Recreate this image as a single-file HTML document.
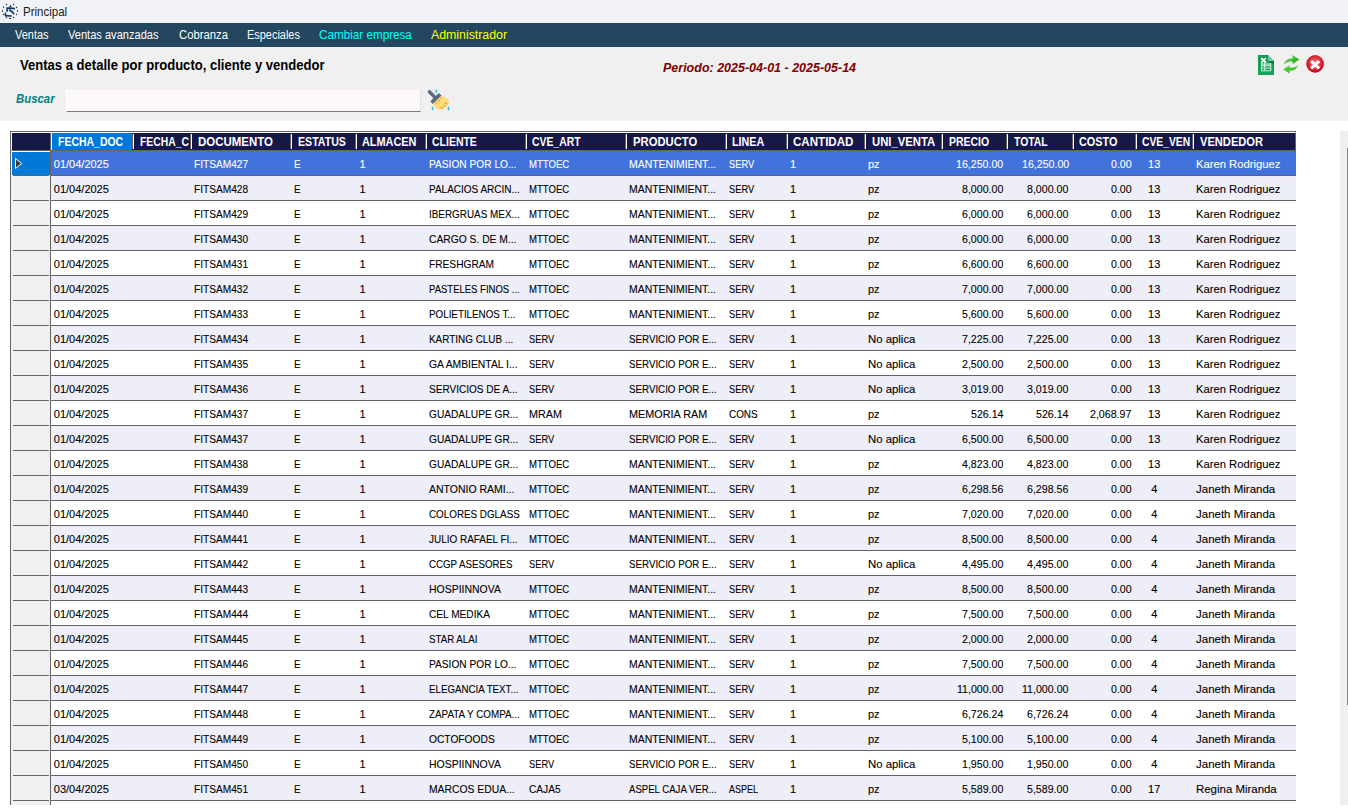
<!DOCTYPE html><html><head><meta charset="utf-8"><title>Principal</title><style>
*{margin:0;padding:0;box-sizing:border-box}
html,body{width:1348px;height:810px;overflow:hidden;background:#fff}
body{position:relative;font-family:"Liberation Sans",sans-serif;color:#000}
.tx{position:absolute;white-space:nowrap;transform-origin:0 0}
#title{position:absolute;left:0;top:0;width:1348px;height:23px;background:#f1f2f6}
#appico{position:absolute;left:0;top:1px}
#menu{position:absolute;left:0;top:23px;width:1348px;height:24px;background:#22475e}
#panel{position:absolute;left:0;top:47px;width:1348px;height:74px;background:#f0f0f0}
#inp{position:absolute;left:66px;top:90px;width:355px;height:22px;background:#fcf9f8;border-left:1px solid #fff;border-top:1px solid #fdfdfd;border-bottom:1px solid #7a7a7a;border-right:1px solid #e3e3e3}
#broom{position:absolute;left:424px;top:86px}
#xls{position:absolute;left:1258px;top:55px}
#refr{position:absolute;left:1280px;top:52px}
#clos{position:absolute;left:1305px;top:54px}
#tbl{position:absolute;left:10px;top:131px;width:1286px;height:674px;overflow:hidden;background:#fff}
#ti{position:absolute;left:-10px;top:-131px;width:1348px;height:810px}
#ti i,#ti div,#ti svg{position:absolute;display:block}
.bl{left:10px;top:131px;width:1px;height:680px;background:#646464}
.bt{left:10px;top:131px;width:1286px;height:1px;background:#646464}
.hdr{left:11px;top:132px;width:1285px;height:19px;background:#161946;border-left:1px solid #fff;border-top:1px solid #fff;border-right:1px solid #646464;border-bottom:1px solid #646464}
.hrh{left:50px;top:133px;width:2px;height:17px;border-left:1px solid #646464;background:#fff}
.hsel{left:52px;top:133px;width:80px;height:17px;background:#0078d7}
.sep{top:134px;width:2px;height:15px;background:#fff;border-left:1px solid #646464;margin-left:-1px}
.row{left:11px;width:1285px;height:25px;background:#fff}
.row.alt{background:#eeeef8}
.row .rl{left:40px;right:0;top:24px;height:1px;background:#646464}
.row .rh{left:0;top:0;width:39px;height:25px;background:#f0f0f0}
.row .rv{left:39px;top:0;width:1px;height:25px;background:#646464}
.row .rb{left:2px;top:24px;width:36px;height:1px;background:#646464}
.row.sel{background:#4272db}
.row.sel .rh{height:24px;background:#0078d7;border-left:1px solid #fff;border-top:1px solid #fff;box-shadow:0 1px 0 #f0f0f0}
#vsb{position:absolute;left:1340px;top:131px;width:8px;height:674px;background:#f0f0f0}
#vsb2{position:absolute;left:1347px;top:148px;width:1px;height:557px;background:#858585}
.dc{-webkit-text-stroke:0.1px currentColor}

</style></head><body>
<div id="title"></div>
<svg id="appico" width="22" height="22" viewBox="0 1 22 22"><g fill="#123b5c"><circle cx="6.5" cy="4.4" r="0.75"/><circle cx="13.5" cy="4.4" r="0.75"/><circle cx="3.5" cy="7.3" r="0.75"/><circle cx="16.5" cy="7.3" r="0.75"/><ellipse cx="2.5" cy="11" rx="0.6" ry="1"/><ellipse cx="17.5" cy="11" rx="0.6" ry="1"/><circle cx="3.5" cy="14.5" r="0.75"/><circle cx="16.5" cy="14.5" r="0.75"/><circle cx="6.5" cy="17.5" r="0.75"/><circle cx="13.5" cy="17.5" r="0.75"/><ellipse cx="10" cy="18.4" rx="1.1" ry="0.7"/>
<path d="M10.5 4.6 L8.8 7.6 L11.6 7.6 Z"/><path d="M14.8 13.6 L12.2 12 L13.2 15 Z"/></g>
<path d="M14.8 8.9 L13 8.4 L7.2 8.2 L7 11.8 M9.3 10 L13.5 12.8 M5.4 12.6 L5.5 15.6 L11.8 16" fill="none" stroke="#123b5c" stroke-width="1.7"/>
</svg>

<span class="tx" style="left:23.20px;top:6px;font-size:12px;line-height:12px;color:#1a1a1a;transform:scaleX(0.9587);">Principal</span>
<div id="menu"></div>
<span class="tx" style="left:15.40px;top:29px;font-size:12px;line-height:12px;color:#ffffff;transform:scaleX(0.9143);">Ventas</span>
<span class="tx" style="left:68.00px;top:29px;font-size:12px;line-height:12px;color:#ffffff;transform:scaleX(0.9233);">Ventas avanzadas</span>
<span class="tx" style="left:178.60px;top:29px;font-size:12px;line-height:12px;color:#ffffff;transform:scaleX(0.9400);">Cobranza</span>
<span class="tx" style="left:247.30px;top:29px;font-size:12px;line-height:12px;color:#ffffff;transform:scaleX(0.9121);">Especiales</span>
<span class="tx" style="left:319.00px;top:29px;font-size:12px;line-height:12px;color:#00ffff;transform:scaleX(0.9738);">Cambiar empresa</span>
<span class="tx" style="left:431.00px;top:29px;font-size:12px;line-height:12px;color:#ffff00;transform:scaleX(1.0270);">Administrador</span>
<div id="panel"></div>
<span class="tx" style="left:20.00px;top:58px;font-size:14px;line-height:14px;font-weight:bold;color:#000;transform:scaleX(0.9319);">Ventas a detalle por producto, cliente y vendedor</span>
<span class="tx" style="left:663.00px;top:62px;font-size:12px;line-height:12px;font-weight:bold;font-style:italic;color:#800000;transform:scaleX(1.0411);">Periodo: 2025-04-01 - 2025-05-14</span>
<span class="tx" style="left:15.50px;top:93px;font-size:12px;line-height:12px;font-weight:bold;font-style:italic;color:#008080;transform:scaleX(0.9479);">Buscar</span>
<div id="inp"></div>
<svg id="broom" width="30" height="28" viewBox="424 86 30 28">
<path d="M432.6 104.3 L441.6 95.2 L447.5 98.8 Q449.6 100.3 448.6 103.2 Q445 108.6 440.4 110 Q437 109.6 435 107.2 Z" fill="#ffdc7c"/>
<path d="M429.4 91.8 L435.2 97.6" stroke="#5b6a80" stroke-width="3.4" stroke-linecap="round"/>
<path d="M430.3 101.3 L438.9 93.0 L441.5 95.4 L432.7 104.1 Z" fill="#5b6a80"/>
<path d="M435.6 102.4 l1.3 0.8 M438 100 l1.6 1.2 M440 97.9 l1.2 0.8 M444.5 102.7 l3.2 1.2 M443.2 105 l2.6 1.6 M440.6 107 l2.4 1.6" stroke="#f0a030" stroke-width="1.1" stroke-linecap="round"/>
<path d="M436.3 88.9 L437.4 91.2 L436.3 93.5 L435.2 91.2 Z M432.6 106.2 L433.7 108.5 L432.6 110.8 L431.5 108.5 Z M448.5 106.2 L449.6 108.6 L448.5 111 L447.4 108.6 Z" fill="#3cb4e7"/>
</svg>
<svg id="xls" width="16" height="20" viewBox="1258 55 16 20">
<defs><linearGradient id="xg" x1="0" y1="0" x2="0" y2="1"><stop offset="0" stop-color="#119a50"/><stop offset="1" stop-color="#17a35d"/></linearGradient></defs>
<path d="M1258 55 H1268 L1274 61 V75 H1258 Z" fill="url(#xg)"/>
<path d="M1268 55 L1274 61 L1268 61 Z" fill="#74c89c"/>
<path d="M1268 61 L1274 61 L1274 64.5 Z" fill="#0b7a3c"/>
<path d="M1261.2 58.0 L1265.9 62.8" stroke="#fff" stroke-width="2"/><path d="M1265.9 58.0 L1261.2 62.8" stroke="#fff" stroke-width="1.5"/>
<rect x="1261" y="63.2" width="10" height="2.4" fill="#8fd6b2"/>
<path d="M1261.5 63.3 V70.8 H1270.8 V63.3 M1261.5 65.9 H1270.8 M1261.5 68.2 H1270.8 M1264.6 63.3 V70.8" fill="none" stroke="#e4f5ec" stroke-width="0.9"/>
</svg>
<svg id="refr" width="22" height="26" viewBox="1280 52 22 26">
<defs><linearGradient id="ag" x1="0" y1="0" x2="1" y2="1"><stop offset="0" stop-color="#7ee46a"/><stop offset="0.55" stop-color="#3cc22c"/><stop offset="1" stop-color="#0c960c"/></linearGradient></defs>
<path d="M1283.8 64.2 C1284.8 60.4 1288.4 58.5 1292.5 58.3 L1292.5 55.0 L1299.4 59.4 L1292.5 63.9 L1292.5 61.3 C1289 61.3 1286 62.4 1283.8 64.2 Z" fill="url(#ag)"/>
<path d="M1297.8 65.0 C1296.6 67.2 1293.6 67.8 1289.6 67.6 L1289.6 65.2 L1282.9 69.3 L1289.6 73.5 L1289.6 70.6 C1294 70.8 1297.3 68.6 1297.8 65.0 Z" fill="url(#ag)"/>
</svg>
<svg id="clos" width="20" height="20" viewBox="1305 54 20 20">
<defs><radialGradient id="rg" cx="0.5" cy="0.45" r="0.55"><stop offset="0" stop-color="#e9848c"/><stop offset="0.55" stop-color="#dc3c48"/><stop offset="0.85" stop-color="#d0101c"/><stop offset="1" stop-color="#b4000e"/></radialGradient></defs>
<circle cx="1315.1" cy="63.9" r="8.8" fill="url(#rg)"/>
<path d="M1311 61.2 L1319.2 68.4 M1319.2 61.2 L1311 68.4" stroke="#fff" stroke-width="3"/>
</svg>

<div id="tbl"><div id="ti">
<i class="bl"></i><i class="bt"></i>
<div class="hdr"></div><i class="hrh"></i><i class="hsel"></i>
<i class="sep" style="left:133px"></i>
<i class="sep" style="left:191px"></i>
<i class="sep" style="left:291px"></i>
<i class="sep" style="left:356px"></i>
<i class="sep" style="left:426px"></i>
<i class="sep" style="left:526px"></i>
<i class="sep" style="left:626px"></i>
<i class="sep" style="left:726px"></i>
<i class="sep" style="left:787px"></i>
<i class="sep" style="left:865px"></i>
<i class="sep" style="left:942px"></i>
<i class="sep" style="left:1007px"></i>
<i class="sep" style="left:1073px"></i>
<i class="sep" style="left:1136px"></i>
<i class="sep" style="left:1193px"></i>
<span class="tx" style="left:57.80px;top:136px;font-size:12px;line-height:12px;font-weight:bold;color:#fff;transform:scaleX(0.8724);">FECHA_DOC</span>
<span class="tx" style="left:140.00px;top:136px;font-size:12px;line-height:12px;font-weight:bold;color:#fff;transform:scaleX(0.8653);">FECHA_C</span>
<span class="tx" style="left:197.70px;top:136px;font-size:12px;line-height:12px;font-weight:bold;color:#fff;transform:scaleX(0.9541);">DOCUMENTO</span>
<span class="tx" style="left:297.60px;top:136px;font-size:12px;line-height:12px;font-weight:bold;color:#fff;transform:scaleX(0.8829);">ESTATUS</span>
<span class="tx" style="left:362.30px;top:136px;font-size:12px;line-height:12px;font-weight:bold;color:#fff;transform:scaleX(0.9083);">ALMACEN</span>
<span class="tx" style="left:432.00px;top:136px;font-size:12px;line-height:12px;font-weight:bold;color:#fff;transform:scaleX(0.8740);">CLIENTE</span>
<span class="tx" style="left:532.00px;top:136px;font-size:12px;line-height:12px;font-weight:bold;color:#fff;transform:scaleX(0.8661);">CVE_ART</span>
<span class="tx" style="left:632.50px;top:136px;font-size:12px;line-height:12px;font-weight:bold;color:#fff;transform:scaleX(0.9387);">PRODUCTO</span>
<span class="tx" style="left:732.40px;top:136px;font-size:12px;line-height:12px;font-weight:bold;color:#fff;transform:scaleX(0.8944);">LINEA</span>
<span class="tx" style="left:793.00px;top:136px;font-size:12px;line-height:12px;font-weight:bold;color:#fff;transform:scaleX(0.9645);">CANTIDAD</span>
<span class="tx" style="left:871.60px;top:136px;font-size:12px;line-height:12px;font-weight:bold;color:#fff;transform:scaleX(0.9415);">UNI_VENTA</span>
<span class="tx" style="left:948.70px;top:136px;font-size:12px;line-height:12px;font-weight:bold;color:#fff;transform:scaleX(0.8717);">PRECIO</span>
<span class="tx" style="left:1014.30px;top:136px;font-size:12px;line-height:12px;font-weight:bold;color:#fff;transform:scaleX(0.8669);">TOTAL</span>
<span class="tx" style="left:1079.00px;top:136px;font-size:12px;line-height:12px;font-weight:bold;color:#fff;transform:scaleX(0.9059);">COSTO</span>
<span class="tx" style="left:1142.00px;top:136px;font-size:12px;line-height:12px;font-weight:bold;color:#fff;transform:scaleX(0.8607);">CVE_VEN</span>
<span class="tx" style="left:1199.50px;top:136px;font-size:12px;line-height:12px;font-weight:bold;color:#fff;transform:scaleX(0.9265);">VENDEDOR</span>
<div class="row sel" style="top:151px"><i class="rh"></i><i class="rv"></i><i class="rb"></i><i class="rl"></i></div>
<svg class="arr" style="left:14px;top:156px" width="10" height="14" viewBox="0 0 10 14"><path d="M1.5 2.5 L7.8 7.5 L1.5 12.5 Z" fill="#3c3c3c" stroke="#fff" stroke-width="1"/></svg>
<span class="tx dc" style="left:53.80px;top:159px;font-size:11px;line-height:11px;color:#fff;">01/04/2025</span>
<span class="tx dc" style="left:194.30px;top:159px;font-size:11px;line-height:11px;color:#fff;transform:scaleX(0.9211);">FITSAM427</span>
<span class="tx dc" style="left:294.40px;top:159px;font-size:11px;line-height:11px;color:#fff;transform:scaleX(0.9000);">E</span>
<span class="tx dc" style="left:359.40px;top:159px;font-size:11px;line-height:11px;color:#fff;">1</span>
<span class="tx dc" style="left:429.20px;top:159px;font-size:11px;line-height:11px;color:#fff;transform:scaleX(0.9249);">PASION POR LO...</span>
<span class="tx dc" style="left:529.10px;top:159px;font-size:11px;line-height:11px;color:#fff;transform:scaleX(0.8714);">MTTOEC</span>
<span class="tx dc" style="left:629.30px;top:159px;font-size:11px;line-height:11px;color:#fff;transform:scaleX(0.9484);">MANTENIMIENT...</span>
<span class="tx dc" style="left:729.10px;top:159px;font-size:11px;line-height:11px;color:#fff;transform:scaleX(0.8437);">SERV</span>
<span class="tx dc" style="left:790.10px;top:159px;font-size:11px;line-height:11px;color:#fff;">1</span>
<span class="tx dc" style="left:867.90px;top:159px;font-size:11px;line-height:11px;color:#fff;">pz</span>
<span class="tx dc" style="left:955.84px;top:159px;font-size:11px;line-height:11px;color:#fff;transform:scaleX(0.9650);">16,250.00</span>
<span class="tx dc" style="left:1021.64px;top:159px;font-size:11px;line-height:11px;color:#fff;transform:scaleX(0.9650);">16,250.00</span>
<span class="tx dc" style="left:1111.07px;top:159px;font-size:11px;line-height:11px;color:#fff;transform:scaleX(0.9650);">0.00</span>
<span class="tx dc" style="left:1148.08px;top:159px;font-size:11px;line-height:11px;color:#fff;">13</span>
<span class="tx dc" style="left:1196.30px;top:159px;font-size:11px;line-height:11px;color:#fff;transform:scaleX(1.0218);">Karen Rodriguez</span>
<div class="row alt" style="top:176px"><i class="rh"></i><i class="rv"></i><i class="rb"></i><i class="rl"></i></div>
<span class="tx dc" style="left:53.80px;top:184px;font-size:11px;line-height:11px;">01/04/2025</span>
<span class="tx dc" style="left:194.30px;top:184px;font-size:11px;line-height:11px;transform:scaleX(0.9211);">FITSAM428</span>
<span class="tx dc" style="left:294.40px;top:184px;font-size:11px;line-height:11px;transform:scaleX(0.9000);">E</span>
<span class="tx dc" style="left:359.40px;top:184px;font-size:11px;line-height:11px;">1</span>
<span class="tx dc" style="left:429.20px;top:184px;font-size:11px;line-height:11px;transform:scaleX(0.9080);">PALACIOS ARCIN...</span>
<span class="tx dc" style="left:529.10px;top:184px;font-size:11px;line-height:11px;transform:scaleX(0.8714);">MTTOEC</span>
<span class="tx dc" style="left:629.30px;top:184px;font-size:11px;line-height:11px;transform:scaleX(0.9484);">MANTENIMIENT...</span>
<span class="tx dc" style="left:729.10px;top:184px;font-size:11px;line-height:11px;transform:scaleX(0.8437);">SERV</span>
<span class="tx dc" style="left:790.10px;top:184px;font-size:11px;line-height:11px;">1</span>
<span class="tx dc" style="left:867.90px;top:184px;font-size:11px;line-height:11px;">pz</span>
<span class="tx dc" style="left:961.63px;top:184px;font-size:11px;line-height:11px;transform:scaleX(0.9650);">8,000.00</span>
<span class="tx dc" style="left:1027.43px;top:184px;font-size:11px;line-height:11px;transform:scaleX(0.9650);">8,000.00</span>
<span class="tx dc" style="left:1111.07px;top:184px;font-size:11px;line-height:11px;transform:scaleX(0.9650);">0.00</span>
<span class="tx dc" style="left:1148.08px;top:184px;font-size:11px;line-height:11px;">13</span>
<span class="tx dc" style="left:1196.30px;top:184px;font-size:11px;line-height:11px;transform:scaleX(1.0218);">Karen Rodriguez</span>
<div class="row" style="top:201px"><i class="rh"></i><i class="rv"></i><i class="rb"></i><i class="rl"></i></div>
<span class="tx dc" style="left:53.80px;top:209px;font-size:11px;line-height:11px;">01/04/2025</span>
<span class="tx dc" style="left:194.30px;top:209px;font-size:11px;line-height:11px;transform:scaleX(0.9211);">FITSAM429</span>
<span class="tx dc" style="left:294.40px;top:209px;font-size:11px;line-height:11px;transform:scaleX(0.9000);">E</span>
<span class="tx dc" style="left:359.40px;top:209px;font-size:11px;line-height:11px;">1</span>
<span class="tx dc" style="left:429.20px;top:209px;font-size:11px;line-height:11px;transform:scaleX(0.9001);">IBERGRUAS MEX...</span>
<span class="tx dc" style="left:529.10px;top:209px;font-size:11px;line-height:11px;transform:scaleX(0.8714);">MTTOEC</span>
<span class="tx dc" style="left:629.30px;top:209px;font-size:11px;line-height:11px;transform:scaleX(0.9484);">MANTENIMIENT...</span>
<span class="tx dc" style="left:729.10px;top:209px;font-size:11px;line-height:11px;transform:scaleX(0.8437);">SERV</span>
<span class="tx dc" style="left:790.10px;top:209px;font-size:11px;line-height:11px;">1</span>
<span class="tx dc" style="left:867.90px;top:209px;font-size:11px;line-height:11px;">pz</span>
<span class="tx dc" style="left:961.63px;top:209px;font-size:11px;line-height:11px;transform:scaleX(0.9650);">6,000.00</span>
<span class="tx dc" style="left:1027.43px;top:209px;font-size:11px;line-height:11px;transform:scaleX(0.9650);">6,000.00</span>
<span class="tx dc" style="left:1111.07px;top:209px;font-size:11px;line-height:11px;transform:scaleX(0.9650);">0.00</span>
<span class="tx dc" style="left:1148.08px;top:209px;font-size:11px;line-height:11px;">13</span>
<span class="tx dc" style="left:1196.30px;top:209px;font-size:11px;line-height:11px;transform:scaleX(1.0218);">Karen Rodriguez</span>
<div class="row alt" style="top:226px"><i class="rh"></i><i class="rv"></i><i class="rb"></i><i class="rl"></i></div>
<span class="tx dc" style="left:53.80px;top:234px;font-size:11px;line-height:11px;">01/04/2025</span>
<span class="tx dc" style="left:194.30px;top:234px;font-size:11px;line-height:11px;transform:scaleX(0.9211);">FITSAM430</span>
<span class="tx dc" style="left:294.40px;top:234px;font-size:11px;line-height:11px;transform:scaleX(0.9000);">E</span>
<span class="tx dc" style="left:359.40px;top:234px;font-size:11px;line-height:11px;">1</span>
<span class="tx dc" style="left:429.20px;top:234px;font-size:11px;line-height:11px;transform:scaleX(0.9348);">CARGO S. DE M...</span>
<span class="tx dc" style="left:529.10px;top:234px;font-size:11px;line-height:11px;transform:scaleX(0.8714);">MTTOEC</span>
<span class="tx dc" style="left:629.30px;top:234px;font-size:11px;line-height:11px;transform:scaleX(0.9484);">MANTENIMIENT...</span>
<span class="tx dc" style="left:729.10px;top:234px;font-size:11px;line-height:11px;transform:scaleX(0.8437);">SERV</span>
<span class="tx dc" style="left:790.10px;top:234px;font-size:11px;line-height:11px;">1</span>
<span class="tx dc" style="left:867.90px;top:234px;font-size:11px;line-height:11px;">pz</span>
<span class="tx dc" style="left:961.63px;top:234px;font-size:11px;line-height:11px;transform:scaleX(0.9650);">6,000.00</span>
<span class="tx dc" style="left:1027.43px;top:234px;font-size:11px;line-height:11px;transform:scaleX(0.9650);">6,000.00</span>
<span class="tx dc" style="left:1111.07px;top:234px;font-size:11px;line-height:11px;transform:scaleX(0.9650);">0.00</span>
<span class="tx dc" style="left:1148.08px;top:234px;font-size:11px;line-height:11px;">13</span>
<span class="tx dc" style="left:1196.30px;top:234px;font-size:11px;line-height:11px;transform:scaleX(1.0218);">Karen Rodriguez</span>
<div class="row" style="top:251px"><i class="rh"></i><i class="rv"></i><i class="rb"></i><i class="rl"></i></div>
<span class="tx dc" style="left:53.80px;top:259px;font-size:11px;line-height:11px;">01/04/2025</span>
<span class="tx dc" style="left:194.30px;top:259px;font-size:11px;line-height:11px;transform:scaleX(0.9211);">FITSAM431</span>
<span class="tx dc" style="left:294.40px;top:259px;font-size:11px;line-height:11px;transform:scaleX(0.9000);">E</span>
<span class="tx dc" style="left:359.40px;top:259px;font-size:11px;line-height:11px;">1</span>
<span class="tx dc" style="left:429.20px;top:259px;font-size:11px;line-height:11px;transform:scaleX(0.9253);">FRESHGRAM</span>
<span class="tx dc" style="left:529.10px;top:259px;font-size:11px;line-height:11px;transform:scaleX(0.8714);">MTTOEC</span>
<span class="tx dc" style="left:629.30px;top:259px;font-size:11px;line-height:11px;transform:scaleX(0.9484);">MANTENIMIENT...</span>
<span class="tx dc" style="left:729.10px;top:259px;font-size:11px;line-height:11px;transform:scaleX(0.8437);">SERV</span>
<span class="tx dc" style="left:790.10px;top:259px;font-size:11px;line-height:11px;">1</span>
<span class="tx dc" style="left:867.90px;top:259px;font-size:11px;line-height:11px;">pz</span>
<span class="tx dc" style="left:961.63px;top:259px;font-size:11px;line-height:11px;transform:scaleX(0.9650);">6,600.00</span>
<span class="tx dc" style="left:1027.43px;top:259px;font-size:11px;line-height:11px;transform:scaleX(0.9650);">6,600.00</span>
<span class="tx dc" style="left:1111.07px;top:259px;font-size:11px;line-height:11px;transform:scaleX(0.9650);">0.00</span>
<span class="tx dc" style="left:1148.08px;top:259px;font-size:11px;line-height:11px;">13</span>
<span class="tx dc" style="left:1196.30px;top:259px;font-size:11px;line-height:11px;transform:scaleX(1.0218);">Karen Rodriguez</span>
<div class="row alt" style="top:276px"><i class="rh"></i><i class="rv"></i><i class="rb"></i><i class="rl"></i></div>
<span class="tx dc" style="left:53.80px;top:284px;font-size:11px;line-height:11px;">01/04/2025</span>
<span class="tx dc" style="left:194.30px;top:284px;font-size:11px;line-height:11px;transform:scaleX(0.9211);">FITSAM432</span>
<span class="tx dc" style="left:294.40px;top:284px;font-size:11px;line-height:11px;transform:scaleX(0.9000);">E</span>
<span class="tx dc" style="left:359.40px;top:284px;font-size:11px;line-height:11px;">1</span>
<span class="tx dc" style="left:429.20px;top:284px;font-size:11px;line-height:11px;transform:scaleX(0.8648);">PASTELES FINOS ...</span>
<span class="tx dc" style="left:529.10px;top:284px;font-size:11px;line-height:11px;transform:scaleX(0.8714);">MTTOEC</span>
<span class="tx dc" style="left:629.30px;top:284px;font-size:11px;line-height:11px;transform:scaleX(0.9484);">MANTENIMIENT...</span>
<span class="tx dc" style="left:729.10px;top:284px;font-size:11px;line-height:11px;transform:scaleX(0.8437);">SERV</span>
<span class="tx dc" style="left:790.10px;top:284px;font-size:11px;line-height:11px;">1</span>
<span class="tx dc" style="left:867.90px;top:284px;font-size:11px;line-height:11px;">pz</span>
<span class="tx dc" style="left:961.63px;top:284px;font-size:11px;line-height:11px;transform:scaleX(0.9650);">7,000.00</span>
<span class="tx dc" style="left:1027.43px;top:284px;font-size:11px;line-height:11px;transform:scaleX(0.9650);">7,000.00</span>
<span class="tx dc" style="left:1111.07px;top:284px;font-size:11px;line-height:11px;transform:scaleX(0.9650);">0.00</span>
<span class="tx dc" style="left:1148.08px;top:284px;font-size:11px;line-height:11px;">13</span>
<span class="tx dc" style="left:1196.30px;top:284px;font-size:11px;line-height:11px;transform:scaleX(1.0218);">Karen Rodriguez</span>
<div class="row" style="top:301px"><i class="rh"></i><i class="rv"></i><i class="rb"></i><i class="rl"></i></div>
<span class="tx dc" style="left:53.80px;top:309px;font-size:11px;line-height:11px;">01/04/2025</span>
<span class="tx dc" style="left:194.30px;top:309px;font-size:11px;line-height:11px;transform:scaleX(0.9211);">FITSAM433</span>
<span class="tx dc" style="left:294.40px;top:309px;font-size:11px;line-height:11px;transform:scaleX(0.9000);">E</span>
<span class="tx dc" style="left:359.40px;top:309px;font-size:11px;line-height:11px;">1</span>
<span class="tx dc" style="left:429.20px;top:309px;font-size:11px;line-height:11px;transform:scaleX(0.8918);">POLIETILENOS T...</span>
<span class="tx dc" style="left:529.10px;top:309px;font-size:11px;line-height:11px;transform:scaleX(0.8714);">MTTOEC</span>
<span class="tx dc" style="left:629.30px;top:309px;font-size:11px;line-height:11px;transform:scaleX(0.9484);">MANTENIMIENT...</span>
<span class="tx dc" style="left:729.10px;top:309px;font-size:11px;line-height:11px;transform:scaleX(0.8437);">SERV</span>
<span class="tx dc" style="left:790.10px;top:309px;font-size:11px;line-height:11px;">1</span>
<span class="tx dc" style="left:867.90px;top:309px;font-size:11px;line-height:11px;">pz</span>
<span class="tx dc" style="left:961.63px;top:309px;font-size:11px;line-height:11px;transform:scaleX(0.9650);">5,600.00</span>
<span class="tx dc" style="left:1027.43px;top:309px;font-size:11px;line-height:11px;transform:scaleX(0.9650);">5,600.00</span>
<span class="tx dc" style="left:1111.07px;top:309px;font-size:11px;line-height:11px;transform:scaleX(0.9650);">0.00</span>
<span class="tx dc" style="left:1148.08px;top:309px;font-size:11px;line-height:11px;">13</span>
<span class="tx dc" style="left:1196.30px;top:309px;font-size:11px;line-height:11px;transform:scaleX(1.0218);">Karen Rodriguez</span>
<div class="row alt" style="top:326px"><i class="rh"></i><i class="rv"></i><i class="rb"></i><i class="rl"></i></div>
<span class="tx dc" style="left:53.80px;top:334px;font-size:11px;line-height:11px;">01/04/2025</span>
<span class="tx dc" style="left:194.30px;top:334px;font-size:11px;line-height:11px;transform:scaleX(0.9211);">FITSAM434</span>
<span class="tx dc" style="left:294.40px;top:334px;font-size:11px;line-height:11px;transform:scaleX(0.9000);">E</span>
<span class="tx dc" style="left:359.40px;top:334px;font-size:11px;line-height:11px;">1</span>
<span class="tx dc" style="left:429.20px;top:334px;font-size:11px;line-height:11px;transform:scaleX(0.9017);">KARTING CLUB ...</span>
<span class="tx dc" style="left:529.10px;top:334px;font-size:11px;line-height:11px;transform:scaleX(0.8437);">SERV</span>
<span class="tx dc" style="left:629.30px;top:334px;font-size:11px;line-height:11px;transform:scaleX(0.8870);">SERVICIO POR E...</span>
<span class="tx dc" style="left:729.10px;top:334px;font-size:11px;line-height:11px;transform:scaleX(0.8437);">SERV</span>
<span class="tx dc" style="left:790.10px;top:334px;font-size:11px;line-height:11px;">1</span>
<span class="tx dc" style="left:867.90px;top:334px;font-size:11px;line-height:11px;transform:scaleX(1.0332);">No aplica</span>
<span class="tx dc" style="left:961.63px;top:334px;font-size:11px;line-height:11px;transform:scaleX(0.9650);">7,225.00</span>
<span class="tx dc" style="left:1027.43px;top:334px;font-size:11px;line-height:11px;transform:scaleX(0.9650);">7,225.00</span>
<span class="tx dc" style="left:1111.07px;top:334px;font-size:11px;line-height:11px;transform:scaleX(0.9650);">0.00</span>
<span class="tx dc" style="left:1148.08px;top:334px;font-size:11px;line-height:11px;">13</span>
<span class="tx dc" style="left:1196.30px;top:334px;font-size:11px;line-height:11px;transform:scaleX(1.0218);">Karen Rodriguez</span>
<div class="row" style="top:351px"><i class="rh"></i><i class="rv"></i><i class="rb"></i><i class="rl"></i></div>
<span class="tx dc" style="left:53.80px;top:359px;font-size:11px;line-height:11px;">01/04/2025</span>
<span class="tx dc" style="left:194.30px;top:359px;font-size:11px;line-height:11px;transform:scaleX(0.9211);">FITSAM435</span>
<span class="tx dc" style="left:294.40px;top:359px;font-size:11px;line-height:11px;transform:scaleX(0.9000);">E</span>
<span class="tx dc" style="left:359.40px;top:359px;font-size:11px;line-height:11px;">1</span>
<span class="tx dc" style="left:429.20px;top:359px;font-size:11px;line-height:11px;transform:scaleX(0.9402);">GA AMBIENTAL I...</span>
<span class="tx dc" style="left:529.10px;top:359px;font-size:11px;line-height:11px;transform:scaleX(0.8437);">SERV</span>
<span class="tx dc" style="left:629.30px;top:359px;font-size:11px;line-height:11px;transform:scaleX(0.8870);">SERVICIO POR E...</span>
<span class="tx dc" style="left:729.10px;top:359px;font-size:11px;line-height:11px;transform:scaleX(0.8437);">SERV</span>
<span class="tx dc" style="left:790.10px;top:359px;font-size:11px;line-height:11px;">1</span>
<span class="tx dc" style="left:867.90px;top:359px;font-size:11px;line-height:11px;transform:scaleX(1.0332);">No aplica</span>
<span class="tx dc" style="left:961.63px;top:359px;font-size:11px;line-height:11px;transform:scaleX(0.9650);">2,500.00</span>
<span class="tx dc" style="left:1027.43px;top:359px;font-size:11px;line-height:11px;transform:scaleX(0.9650);">2,500.00</span>
<span class="tx dc" style="left:1111.07px;top:359px;font-size:11px;line-height:11px;transform:scaleX(0.9650);">0.00</span>
<span class="tx dc" style="left:1148.08px;top:359px;font-size:11px;line-height:11px;">13</span>
<span class="tx dc" style="left:1196.30px;top:359px;font-size:11px;line-height:11px;transform:scaleX(1.0218);">Karen Rodriguez</span>
<div class="row alt" style="top:376px"><i class="rh"></i><i class="rv"></i><i class="rb"></i><i class="rl"></i></div>
<span class="tx dc" style="left:53.80px;top:384px;font-size:11px;line-height:11px;">01/04/2025</span>
<span class="tx dc" style="left:194.30px;top:384px;font-size:11px;line-height:11px;transform:scaleX(0.9211);">FITSAM436</span>
<span class="tx dc" style="left:294.40px;top:384px;font-size:11px;line-height:11px;transform:scaleX(0.9000);">E</span>
<span class="tx dc" style="left:359.40px;top:384px;font-size:11px;line-height:11px;">1</span>
<span class="tx dc" style="left:429.20px;top:384px;font-size:11px;line-height:11px;transform:scaleX(0.9124);">SERVICIOS DE A...</span>
<span class="tx dc" style="left:529.10px;top:384px;font-size:11px;line-height:11px;transform:scaleX(0.8437);">SERV</span>
<span class="tx dc" style="left:629.30px;top:384px;font-size:11px;line-height:11px;transform:scaleX(0.8870);">SERVICIO POR E...</span>
<span class="tx dc" style="left:729.10px;top:384px;font-size:11px;line-height:11px;transform:scaleX(0.8437);">SERV</span>
<span class="tx dc" style="left:790.10px;top:384px;font-size:11px;line-height:11px;">1</span>
<span class="tx dc" style="left:867.90px;top:384px;font-size:11px;line-height:11px;transform:scaleX(1.0332);">No aplica</span>
<span class="tx dc" style="left:961.63px;top:384px;font-size:11px;line-height:11px;transform:scaleX(0.9650);">3,019.00</span>
<span class="tx dc" style="left:1027.43px;top:384px;font-size:11px;line-height:11px;transform:scaleX(0.9650);">3,019.00</span>
<span class="tx dc" style="left:1111.07px;top:384px;font-size:11px;line-height:11px;transform:scaleX(0.9650);">0.00</span>
<span class="tx dc" style="left:1148.08px;top:384px;font-size:11px;line-height:11px;">13</span>
<span class="tx dc" style="left:1196.30px;top:384px;font-size:11px;line-height:11px;transform:scaleX(1.0218);">Karen Rodriguez</span>
<div class="row" style="top:401px"><i class="rh"></i><i class="rv"></i><i class="rb"></i><i class="rl"></i></div>
<span class="tx dc" style="left:53.80px;top:409px;font-size:11px;line-height:11px;">01/04/2025</span>
<span class="tx dc" style="left:194.30px;top:409px;font-size:11px;line-height:11px;transform:scaleX(0.9211);">FITSAM437</span>
<span class="tx dc" style="left:294.40px;top:409px;font-size:11px;line-height:11px;transform:scaleX(0.9000);">E</span>
<span class="tx dc" style="left:359.40px;top:409px;font-size:11px;line-height:11px;">1</span>
<span class="tx dc" style="left:429.20px;top:409px;font-size:11px;line-height:11px;transform:scaleX(0.9242);">GUADALUPE GR...</span>
<span class="tx dc" style="left:529.10px;top:409px;font-size:11px;line-height:11px;transform:scaleX(0.9784);">MRAM</span>
<span class="tx dc" style="left:629.30px;top:409px;font-size:11px;line-height:11px;transform:scaleX(0.9862);">MEMORIA RAM</span>
<span class="tx dc" style="left:729.10px;top:409px;font-size:11px;line-height:11px;transform:scaleX(0.9000);">CONS</span>
<span class="tx dc" style="left:790.10px;top:409px;font-size:11px;line-height:11px;">1</span>
<span class="tx dc" style="left:867.90px;top:409px;font-size:11px;line-height:11px;">pz</span>
<span class="tx dc" style="left:970.55px;top:409px;font-size:11px;line-height:11px;transform:scaleX(0.9650);">526.14</span>
<span class="tx dc" style="left:1036.35px;top:409px;font-size:11px;line-height:11px;transform:scaleX(0.9650);">526.14</span>
<span class="tx dc" style="left:1090.33px;top:409px;font-size:11px;line-height:11px;transform:scaleX(0.9650);">2,068.97</span>
<span class="tx dc" style="left:1148.08px;top:409px;font-size:11px;line-height:11px;">13</span>
<span class="tx dc" style="left:1196.30px;top:409px;font-size:11px;line-height:11px;transform:scaleX(1.0218);">Karen Rodriguez</span>
<div class="row alt" style="top:426px"><i class="rh"></i><i class="rv"></i><i class="rb"></i><i class="rl"></i></div>
<span class="tx dc" style="left:53.80px;top:434px;font-size:11px;line-height:11px;">01/04/2025</span>
<span class="tx dc" style="left:194.30px;top:434px;font-size:11px;line-height:11px;transform:scaleX(0.9211);">FITSAM437</span>
<span class="tx dc" style="left:294.40px;top:434px;font-size:11px;line-height:11px;transform:scaleX(0.9000);">E</span>
<span class="tx dc" style="left:359.40px;top:434px;font-size:11px;line-height:11px;">1</span>
<span class="tx dc" style="left:429.20px;top:434px;font-size:11px;line-height:11px;transform:scaleX(0.9242);">GUADALUPE GR...</span>
<span class="tx dc" style="left:529.10px;top:434px;font-size:11px;line-height:11px;transform:scaleX(0.8437);">SERV</span>
<span class="tx dc" style="left:629.30px;top:434px;font-size:11px;line-height:11px;transform:scaleX(0.8870);">SERVICIO POR E...</span>
<span class="tx dc" style="left:729.10px;top:434px;font-size:11px;line-height:11px;transform:scaleX(0.8437);">SERV</span>
<span class="tx dc" style="left:790.10px;top:434px;font-size:11px;line-height:11px;">1</span>
<span class="tx dc" style="left:867.90px;top:434px;font-size:11px;line-height:11px;transform:scaleX(1.0332);">No aplica</span>
<span class="tx dc" style="left:961.63px;top:434px;font-size:11px;line-height:11px;transform:scaleX(0.9650);">6,500.00</span>
<span class="tx dc" style="left:1027.43px;top:434px;font-size:11px;line-height:11px;transform:scaleX(0.9650);">6,500.00</span>
<span class="tx dc" style="left:1111.07px;top:434px;font-size:11px;line-height:11px;transform:scaleX(0.9650);">0.00</span>
<span class="tx dc" style="left:1148.08px;top:434px;font-size:11px;line-height:11px;">13</span>
<span class="tx dc" style="left:1196.30px;top:434px;font-size:11px;line-height:11px;transform:scaleX(1.0218);">Karen Rodriguez</span>
<div class="row" style="top:451px"><i class="rh"></i><i class="rv"></i><i class="rb"></i><i class="rl"></i></div>
<span class="tx dc" style="left:53.80px;top:459px;font-size:11px;line-height:11px;">01/04/2025</span>
<span class="tx dc" style="left:194.30px;top:459px;font-size:11px;line-height:11px;transform:scaleX(0.9211);">FITSAM438</span>
<span class="tx dc" style="left:294.40px;top:459px;font-size:11px;line-height:11px;transform:scaleX(0.9000);">E</span>
<span class="tx dc" style="left:359.40px;top:459px;font-size:11px;line-height:11px;">1</span>
<span class="tx dc" style="left:429.20px;top:459px;font-size:11px;line-height:11px;transform:scaleX(0.9242);">GUADALUPE GR...</span>
<span class="tx dc" style="left:529.10px;top:459px;font-size:11px;line-height:11px;transform:scaleX(0.8714);">MTTOEC</span>
<span class="tx dc" style="left:629.30px;top:459px;font-size:11px;line-height:11px;transform:scaleX(0.9484);">MANTENIMIENT...</span>
<span class="tx dc" style="left:729.10px;top:459px;font-size:11px;line-height:11px;transform:scaleX(0.8437);">SERV</span>
<span class="tx dc" style="left:790.10px;top:459px;font-size:11px;line-height:11px;">1</span>
<span class="tx dc" style="left:867.90px;top:459px;font-size:11px;line-height:11px;">pz</span>
<span class="tx dc" style="left:961.63px;top:459px;font-size:11px;line-height:11px;transform:scaleX(0.9650);">4,823.00</span>
<span class="tx dc" style="left:1027.43px;top:459px;font-size:11px;line-height:11px;transform:scaleX(0.9650);">4,823.00</span>
<span class="tx dc" style="left:1111.07px;top:459px;font-size:11px;line-height:11px;transform:scaleX(0.9650);">0.00</span>
<span class="tx dc" style="left:1148.08px;top:459px;font-size:11px;line-height:11px;">13</span>
<span class="tx dc" style="left:1196.30px;top:459px;font-size:11px;line-height:11px;transform:scaleX(1.0218);">Karen Rodriguez</span>
<div class="row alt" style="top:476px"><i class="rh"></i><i class="rv"></i><i class="rb"></i><i class="rl"></i></div>
<span class="tx dc" style="left:53.80px;top:484px;font-size:11px;line-height:11px;">01/04/2025</span>
<span class="tx dc" style="left:194.30px;top:484px;font-size:11px;line-height:11px;transform:scaleX(0.9211);">FITSAM439</span>
<span class="tx dc" style="left:294.40px;top:484px;font-size:11px;line-height:11px;transform:scaleX(0.9000);">E</span>
<span class="tx dc" style="left:359.40px;top:484px;font-size:11px;line-height:11px;">1</span>
<span class="tx dc" style="left:429.20px;top:484px;font-size:11px;line-height:11px;transform:scaleX(0.9529);">ANTONIO RAMI...</span>
<span class="tx dc" style="left:529.10px;top:484px;font-size:11px;line-height:11px;transform:scaleX(0.8714);">MTTOEC</span>
<span class="tx dc" style="left:629.30px;top:484px;font-size:11px;line-height:11px;transform:scaleX(0.9484);">MANTENIMIENT...</span>
<span class="tx dc" style="left:729.10px;top:484px;font-size:11px;line-height:11px;transform:scaleX(0.8437);">SERV</span>
<span class="tx dc" style="left:790.10px;top:484px;font-size:11px;line-height:11px;">1</span>
<span class="tx dc" style="left:867.90px;top:484px;font-size:11px;line-height:11px;">pz</span>
<span class="tx dc" style="left:961.63px;top:484px;font-size:11px;line-height:11px;transform:scaleX(0.9650);">6,298.56</span>
<span class="tx dc" style="left:1027.43px;top:484px;font-size:11px;line-height:11px;transform:scaleX(0.9650);">6,298.56</span>
<span class="tx dc" style="left:1111.07px;top:484px;font-size:11px;line-height:11px;transform:scaleX(0.9650);">0.00</span>
<span class="tx dc" style="left:1151.14px;top:484px;font-size:11px;line-height:11px;">4</span>
<span class="tx dc" style="left:1196.30px;top:484px;font-size:11px;line-height:11px;transform:scaleX(1.0451);">Janeth Miranda</span>
<div class="row" style="top:501px"><i class="rh"></i><i class="rv"></i><i class="rb"></i><i class="rl"></i></div>
<span class="tx dc" style="left:53.80px;top:509px;font-size:11px;line-height:11px;">01/04/2025</span>
<span class="tx dc" style="left:194.30px;top:509px;font-size:11px;line-height:11px;transform:scaleX(0.9211);">FITSAM440</span>
<span class="tx dc" style="left:294.40px;top:509px;font-size:11px;line-height:11px;transform:scaleX(0.9000);">E</span>
<span class="tx dc" style="left:359.40px;top:509px;font-size:11px;line-height:11px;">1</span>
<span class="tx dc" style="left:429.20px;top:509px;font-size:11px;line-height:11px;transform:scaleX(0.8946);">COLORES DGLASS</span>
<span class="tx dc" style="left:529.10px;top:509px;font-size:11px;line-height:11px;transform:scaleX(0.8714);">MTTOEC</span>
<span class="tx dc" style="left:629.30px;top:509px;font-size:11px;line-height:11px;transform:scaleX(0.9484);">MANTENIMIENT...</span>
<span class="tx dc" style="left:729.10px;top:509px;font-size:11px;line-height:11px;transform:scaleX(0.8437);">SERV</span>
<span class="tx dc" style="left:790.10px;top:509px;font-size:11px;line-height:11px;">1</span>
<span class="tx dc" style="left:867.90px;top:509px;font-size:11px;line-height:11px;">pz</span>
<span class="tx dc" style="left:961.63px;top:509px;font-size:11px;line-height:11px;transform:scaleX(0.9650);">7,020.00</span>
<span class="tx dc" style="left:1027.43px;top:509px;font-size:11px;line-height:11px;transform:scaleX(0.9650);">7,020.00</span>
<span class="tx dc" style="left:1111.07px;top:509px;font-size:11px;line-height:11px;transform:scaleX(0.9650);">0.00</span>
<span class="tx dc" style="left:1151.14px;top:509px;font-size:11px;line-height:11px;">4</span>
<span class="tx dc" style="left:1196.30px;top:509px;font-size:11px;line-height:11px;transform:scaleX(1.0451);">Janeth Miranda</span>
<div class="row alt" style="top:526px"><i class="rh"></i><i class="rv"></i><i class="rb"></i><i class="rl"></i></div>
<span class="tx dc" style="left:53.80px;top:534px;font-size:11px;line-height:11px;">01/04/2025</span>
<span class="tx dc" style="left:194.30px;top:534px;font-size:11px;line-height:11px;transform:scaleX(0.9211);">FITSAM441</span>
<span class="tx dc" style="left:294.40px;top:534px;font-size:11px;line-height:11px;transform:scaleX(0.9000);">E</span>
<span class="tx dc" style="left:359.40px;top:534px;font-size:11px;line-height:11px;">1</span>
<span class="tx dc" style="left:429.20px;top:534px;font-size:11px;line-height:11px;transform:scaleX(0.9041);">JULIO RAFAEL FI...</span>
<span class="tx dc" style="left:529.10px;top:534px;font-size:11px;line-height:11px;transform:scaleX(0.8714);">MTTOEC</span>
<span class="tx dc" style="left:629.30px;top:534px;font-size:11px;line-height:11px;transform:scaleX(0.9484);">MANTENIMIENT...</span>
<span class="tx dc" style="left:729.10px;top:534px;font-size:11px;line-height:11px;transform:scaleX(0.8437);">SERV</span>
<span class="tx dc" style="left:790.10px;top:534px;font-size:11px;line-height:11px;">1</span>
<span class="tx dc" style="left:867.90px;top:534px;font-size:11px;line-height:11px;">pz</span>
<span class="tx dc" style="left:961.63px;top:534px;font-size:11px;line-height:11px;transform:scaleX(0.9650);">8,500.00</span>
<span class="tx dc" style="left:1027.43px;top:534px;font-size:11px;line-height:11px;transform:scaleX(0.9650);">8,500.00</span>
<span class="tx dc" style="left:1111.07px;top:534px;font-size:11px;line-height:11px;transform:scaleX(0.9650);">0.00</span>
<span class="tx dc" style="left:1151.14px;top:534px;font-size:11px;line-height:11px;">4</span>
<span class="tx dc" style="left:1196.30px;top:534px;font-size:11px;line-height:11px;transform:scaleX(1.0451);">Janeth Miranda</span>
<div class="row" style="top:551px"><i class="rh"></i><i class="rv"></i><i class="rb"></i><i class="rl"></i></div>
<span class="tx dc" style="left:53.80px;top:559px;font-size:11px;line-height:11px;">01/04/2025</span>
<span class="tx dc" style="left:194.30px;top:559px;font-size:11px;line-height:11px;transform:scaleX(0.9211);">FITSAM442</span>
<span class="tx dc" style="left:294.40px;top:559px;font-size:11px;line-height:11px;transform:scaleX(0.9000);">E</span>
<span class="tx dc" style="left:359.40px;top:559px;font-size:11px;line-height:11px;">1</span>
<span class="tx dc" style="left:429.20px;top:559px;font-size:11px;line-height:11px;transform:scaleX(0.8836);">CCGP ASESORES</span>
<span class="tx dc" style="left:529.10px;top:559px;font-size:11px;line-height:11px;transform:scaleX(0.8437);">SERV</span>
<span class="tx dc" style="left:629.30px;top:559px;font-size:11px;line-height:11px;transform:scaleX(0.8870);">SERVICIO POR E...</span>
<span class="tx dc" style="left:729.10px;top:559px;font-size:11px;line-height:11px;transform:scaleX(0.8437);">SERV</span>
<span class="tx dc" style="left:790.10px;top:559px;font-size:11px;line-height:11px;">1</span>
<span class="tx dc" style="left:867.90px;top:559px;font-size:11px;line-height:11px;transform:scaleX(1.0332);">No aplica</span>
<span class="tx dc" style="left:961.63px;top:559px;font-size:11px;line-height:11px;transform:scaleX(0.9650);">4,495.00</span>
<span class="tx dc" style="left:1027.43px;top:559px;font-size:11px;line-height:11px;transform:scaleX(0.9650);">4,495.00</span>
<span class="tx dc" style="left:1111.07px;top:559px;font-size:11px;line-height:11px;transform:scaleX(0.9650);">0.00</span>
<span class="tx dc" style="left:1151.14px;top:559px;font-size:11px;line-height:11px;">4</span>
<span class="tx dc" style="left:1196.30px;top:559px;font-size:11px;line-height:11px;transform:scaleX(1.0451);">Janeth Miranda</span>
<div class="row alt" style="top:576px"><i class="rh"></i><i class="rv"></i><i class="rb"></i><i class="rl"></i></div>
<span class="tx dc" style="left:53.80px;top:584px;font-size:11px;line-height:11px;">01/04/2025</span>
<span class="tx dc" style="left:194.30px;top:584px;font-size:11px;line-height:11px;transform:scaleX(0.9211);">FITSAM443</span>
<span class="tx dc" style="left:294.40px;top:584px;font-size:11px;line-height:11px;transform:scaleX(0.9000);">E</span>
<span class="tx dc" style="left:359.40px;top:584px;font-size:11px;line-height:11px;">1</span>
<span class="tx dc" style="left:429.20px;top:584px;font-size:11px;line-height:11px;transform:scaleX(0.9507);">HOSPIINNOVA</span>
<span class="tx dc" style="left:529.10px;top:584px;font-size:11px;line-height:11px;transform:scaleX(0.8714);">MTTOEC</span>
<span class="tx dc" style="left:629.30px;top:584px;font-size:11px;line-height:11px;transform:scaleX(0.9484);">MANTENIMIENT...</span>
<span class="tx dc" style="left:729.10px;top:584px;font-size:11px;line-height:11px;transform:scaleX(0.8437);">SERV</span>
<span class="tx dc" style="left:790.10px;top:584px;font-size:11px;line-height:11px;">1</span>
<span class="tx dc" style="left:867.90px;top:584px;font-size:11px;line-height:11px;">pz</span>
<span class="tx dc" style="left:961.63px;top:584px;font-size:11px;line-height:11px;transform:scaleX(0.9650);">8,500.00</span>
<span class="tx dc" style="left:1027.43px;top:584px;font-size:11px;line-height:11px;transform:scaleX(0.9650);">8,500.00</span>
<span class="tx dc" style="left:1111.07px;top:584px;font-size:11px;line-height:11px;transform:scaleX(0.9650);">0.00</span>
<span class="tx dc" style="left:1151.14px;top:584px;font-size:11px;line-height:11px;">4</span>
<span class="tx dc" style="left:1196.30px;top:584px;font-size:11px;line-height:11px;transform:scaleX(1.0451);">Janeth Miranda</span>
<div class="row" style="top:601px"><i class="rh"></i><i class="rv"></i><i class="rb"></i><i class="rl"></i></div>
<span class="tx dc" style="left:53.80px;top:609px;font-size:11px;line-height:11px;">01/04/2025</span>
<span class="tx dc" style="left:194.30px;top:609px;font-size:11px;line-height:11px;transform:scaleX(0.9211);">FITSAM444</span>
<span class="tx dc" style="left:294.40px;top:609px;font-size:11px;line-height:11px;transform:scaleX(0.9000);">E</span>
<span class="tx dc" style="left:359.40px;top:609px;font-size:11px;line-height:11px;">1</span>
<span class="tx dc" style="left:429.20px;top:609px;font-size:11px;line-height:11px;transform:scaleX(0.9208);">CEL MEDIKA</span>
<span class="tx dc" style="left:529.10px;top:609px;font-size:11px;line-height:11px;transform:scaleX(0.8714);">MTTOEC</span>
<span class="tx dc" style="left:629.30px;top:609px;font-size:11px;line-height:11px;transform:scaleX(0.9484);">MANTENIMIENT...</span>
<span class="tx dc" style="left:729.10px;top:609px;font-size:11px;line-height:11px;transform:scaleX(0.8437);">SERV</span>
<span class="tx dc" style="left:790.10px;top:609px;font-size:11px;line-height:11px;">1</span>
<span class="tx dc" style="left:867.90px;top:609px;font-size:11px;line-height:11px;">pz</span>
<span class="tx dc" style="left:961.63px;top:609px;font-size:11px;line-height:11px;transform:scaleX(0.9650);">7,500.00</span>
<span class="tx dc" style="left:1027.43px;top:609px;font-size:11px;line-height:11px;transform:scaleX(0.9650);">7,500.00</span>
<span class="tx dc" style="left:1111.07px;top:609px;font-size:11px;line-height:11px;transform:scaleX(0.9650);">0.00</span>
<span class="tx dc" style="left:1151.14px;top:609px;font-size:11px;line-height:11px;">4</span>
<span class="tx dc" style="left:1196.30px;top:609px;font-size:11px;line-height:11px;transform:scaleX(1.0451);">Janeth Miranda</span>
<div class="row alt" style="top:626px"><i class="rh"></i><i class="rv"></i><i class="rb"></i><i class="rl"></i></div>
<span class="tx dc" style="left:53.80px;top:634px;font-size:11px;line-height:11px;">01/04/2025</span>
<span class="tx dc" style="left:194.30px;top:634px;font-size:11px;line-height:11px;transform:scaleX(0.9211);">FITSAM445</span>
<span class="tx dc" style="left:294.40px;top:634px;font-size:11px;line-height:11px;transform:scaleX(0.9000);">E</span>
<span class="tx dc" style="left:359.40px;top:634px;font-size:11px;line-height:11px;">1</span>
<span class="tx dc" style="left:429.20px;top:634px;font-size:11px;line-height:11px;transform:scaleX(0.8838);">STAR ALAI</span>
<span class="tx dc" style="left:529.10px;top:634px;font-size:11px;line-height:11px;transform:scaleX(0.8714);">MTTOEC</span>
<span class="tx dc" style="left:629.30px;top:634px;font-size:11px;line-height:11px;transform:scaleX(0.9484);">MANTENIMIENT...</span>
<span class="tx dc" style="left:729.10px;top:634px;font-size:11px;line-height:11px;transform:scaleX(0.8437);">SERV</span>
<span class="tx dc" style="left:790.10px;top:634px;font-size:11px;line-height:11px;">1</span>
<span class="tx dc" style="left:867.90px;top:634px;font-size:11px;line-height:11px;">pz</span>
<span class="tx dc" style="left:961.63px;top:634px;font-size:11px;line-height:11px;transform:scaleX(0.9650);">2,000.00</span>
<span class="tx dc" style="left:1027.43px;top:634px;font-size:11px;line-height:11px;transform:scaleX(0.9650);">2,000.00</span>
<span class="tx dc" style="left:1111.07px;top:634px;font-size:11px;line-height:11px;transform:scaleX(0.9650);">0.00</span>
<span class="tx dc" style="left:1151.14px;top:634px;font-size:11px;line-height:11px;">4</span>
<span class="tx dc" style="left:1196.30px;top:634px;font-size:11px;line-height:11px;transform:scaleX(1.0451);">Janeth Miranda</span>
<div class="row" style="top:651px"><i class="rh"></i><i class="rv"></i><i class="rb"></i><i class="rl"></i></div>
<span class="tx dc" style="left:53.80px;top:659px;font-size:11px;line-height:11px;">01/04/2025</span>
<span class="tx dc" style="left:194.30px;top:659px;font-size:11px;line-height:11px;transform:scaleX(0.9211);">FITSAM446</span>
<span class="tx dc" style="left:294.40px;top:659px;font-size:11px;line-height:11px;transform:scaleX(0.9000);">E</span>
<span class="tx dc" style="left:359.40px;top:659px;font-size:11px;line-height:11px;">1</span>
<span class="tx dc" style="left:429.20px;top:659px;font-size:11px;line-height:11px;transform:scaleX(0.9249);">PASION POR LO...</span>
<span class="tx dc" style="left:529.10px;top:659px;font-size:11px;line-height:11px;transform:scaleX(0.8714);">MTTOEC</span>
<span class="tx dc" style="left:629.30px;top:659px;font-size:11px;line-height:11px;transform:scaleX(0.9484);">MANTENIMIENT...</span>
<span class="tx dc" style="left:729.10px;top:659px;font-size:11px;line-height:11px;transform:scaleX(0.8437);">SERV</span>
<span class="tx dc" style="left:790.10px;top:659px;font-size:11px;line-height:11px;">1</span>
<span class="tx dc" style="left:867.90px;top:659px;font-size:11px;line-height:11px;">pz</span>
<span class="tx dc" style="left:961.63px;top:659px;font-size:11px;line-height:11px;transform:scaleX(0.9650);">7,500.00</span>
<span class="tx dc" style="left:1027.43px;top:659px;font-size:11px;line-height:11px;transform:scaleX(0.9650);">7,500.00</span>
<span class="tx dc" style="left:1111.07px;top:659px;font-size:11px;line-height:11px;transform:scaleX(0.9650);">0.00</span>
<span class="tx dc" style="left:1151.14px;top:659px;font-size:11px;line-height:11px;">4</span>
<span class="tx dc" style="left:1196.30px;top:659px;font-size:11px;line-height:11px;transform:scaleX(1.0451);">Janeth Miranda</span>
<div class="row alt" style="top:676px"><i class="rh"></i><i class="rv"></i><i class="rb"></i><i class="rl"></i></div>
<span class="tx dc" style="left:53.80px;top:684px;font-size:11px;line-height:11px;">01/04/2025</span>
<span class="tx dc" style="left:194.30px;top:684px;font-size:11px;line-height:11px;transform:scaleX(0.9211);">FITSAM447</span>
<span class="tx dc" style="left:294.40px;top:684px;font-size:11px;line-height:11px;transform:scaleX(0.9000);">E</span>
<span class="tx dc" style="left:359.40px;top:684px;font-size:11px;line-height:11px;">1</span>
<span class="tx dc" style="left:429.20px;top:684px;font-size:11px;line-height:11px;transform:scaleX(0.8840);">ELEGANCIA TEXT...</span>
<span class="tx dc" style="left:529.10px;top:684px;font-size:11px;line-height:11px;transform:scaleX(0.8714);">MTTOEC</span>
<span class="tx dc" style="left:629.30px;top:684px;font-size:11px;line-height:11px;transform:scaleX(0.9484);">MANTENIMIENT...</span>
<span class="tx dc" style="left:729.10px;top:684px;font-size:11px;line-height:11px;transform:scaleX(0.8437);">SERV</span>
<span class="tx dc" style="left:790.10px;top:684px;font-size:11px;line-height:11px;">1</span>
<span class="tx dc" style="left:867.90px;top:684px;font-size:11px;line-height:11px;">pz</span>
<span class="tx dc" style="left:956.56px;top:684px;font-size:11px;line-height:11px;transform:scaleX(0.9650);">11,000.00</span>
<span class="tx dc" style="left:1022.36px;top:684px;font-size:11px;line-height:11px;transform:scaleX(0.9650);">11,000.00</span>
<span class="tx dc" style="left:1111.07px;top:684px;font-size:11px;line-height:11px;transform:scaleX(0.9650);">0.00</span>
<span class="tx dc" style="left:1151.14px;top:684px;font-size:11px;line-height:11px;">4</span>
<span class="tx dc" style="left:1196.30px;top:684px;font-size:11px;line-height:11px;transform:scaleX(1.0451);">Janeth Miranda</span>
<div class="row" style="top:701px"><i class="rh"></i><i class="rv"></i><i class="rb"></i><i class="rl"></i></div>
<span class="tx dc" style="left:53.80px;top:709px;font-size:11px;line-height:11px;">01/04/2025</span>
<span class="tx dc" style="left:194.30px;top:709px;font-size:11px;line-height:11px;transform:scaleX(0.9211);">FITSAM448</span>
<span class="tx dc" style="left:294.40px;top:709px;font-size:11px;line-height:11px;transform:scaleX(0.9000);">E</span>
<span class="tx dc" style="left:359.40px;top:709px;font-size:11px;line-height:11px;">1</span>
<span class="tx dc" style="left:429.20px;top:709px;font-size:11px;line-height:11px;transform:scaleX(0.8946);">ZAPATA Y COMPA...</span>
<span class="tx dc" style="left:529.10px;top:709px;font-size:11px;line-height:11px;transform:scaleX(0.8714);">MTTOEC</span>
<span class="tx dc" style="left:629.30px;top:709px;font-size:11px;line-height:11px;transform:scaleX(0.9484);">MANTENIMIENT...</span>
<span class="tx dc" style="left:729.10px;top:709px;font-size:11px;line-height:11px;transform:scaleX(0.8437);">SERV</span>
<span class="tx dc" style="left:790.10px;top:709px;font-size:11px;line-height:11px;">1</span>
<span class="tx dc" style="left:867.90px;top:709px;font-size:11px;line-height:11px;">pz</span>
<span class="tx dc" style="left:961.63px;top:709px;font-size:11px;line-height:11px;transform:scaleX(0.9650);">6,726.24</span>
<span class="tx dc" style="left:1027.43px;top:709px;font-size:11px;line-height:11px;transform:scaleX(0.9650);">6,726.24</span>
<span class="tx dc" style="left:1111.07px;top:709px;font-size:11px;line-height:11px;transform:scaleX(0.9650);">0.00</span>
<span class="tx dc" style="left:1151.14px;top:709px;font-size:11px;line-height:11px;">4</span>
<span class="tx dc" style="left:1196.30px;top:709px;font-size:11px;line-height:11px;transform:scaleX(1.0451);">Janeth Miranda</span>
<div class="row alt" style="top:726px"><i class="rh"></i><i class="rv"></i><i class="rb"></i><i class="rl"></i></div>
<span class="tx dc" style="left:53.80px;top:734px;font-size:11px;line-height:11px;">01/04/2025</span>
<span class="tx dc" style="left:194.30px;top:734px;font-size:11px;line-height:11px;transform:scaleX(0.9211);">FITSAM449</span>
<span class="tx dc" style="left:294.40px;top:734px;font-size:11px;line-height:11px;transform:scaleX(0.9000);">E</span>
<span class="tx dc" style="left:359.40px;top:734px;font-size:11px;line-height:11px;">1</span>
<span class="tx dc" style="left:429.20px;top:734px;font-size:11px;line-height:11px;transform:scaleX(0.9300);">OCTOFOODS</span>
<span class="tx dc" style="left:529.10px;top:734px;font-size:11px;line-height:11px;transform:scaleX(0.8714);">MTTOEC</span>
<span class="tx dc" style="left:629.30px;top:734px;font-size:11px;line-height:11px;transform:scaleX(0.9484);">MANTENIMIENT...</span>
<span class="tx dc" style="left:729.10px;top:734px;font-size:11px;line-height:11px;transform:scaleX(0.8437);">SERV</span>
<span class="tx dc" style="left:790.10px;top:734px;font-size:11px;line-height:11px;">1</span>
<span class="tx dc" style="left:867.90px;top:734px;font-size:11px;line-height:11px;">pz</span>
<span class="tx dc" style="left:961.63px;top:734px;font-size:11px;line-height:11px;transform:scaleX(0.9650);">5,100.00</span>
<span class="tx dc" style="left:1027.43px;top:734px;font-size:11px;line-height:11px;transform:scaleX(0.9650);">5,100.00</span>
<span class="tx dc" style="left:1111.07px;top:734px;font-size:11px;line-height:11px;transform:scaleX(0.9650);">0.00</span>
<span class="tx dc" style="left:1151.14px;top:734px;font-size:11px;line-height:11px;">4</span>
<span class="tx dc" style="left:1196.30px;top:734px;font-size:11px;line-height:11px;transform:scaleX(1.0451);">Janeth Miranda</span>
<div class="row" style="top:751px"><i class="rh"></i><i class="rv"></i><i class="rb"></i><i class="rl"></i></div>
<span class="tx dc" style="left:53.80px;top:759px;font-size:11px;line-height:11px;">01/04/2025</span>
<span class="tx dc" style="left:194.30px;top:759px;font-size:11px;line-height:11px;transform:scaleX(0.9211);">FITSAM450</span>
<span class="tx dc" style="left:294.40px;top:759px;font-size:11px;line-height:11px;transform:scaleX(0.9000);">E</span>
<span class="tx dc" style="left:359.40px;top:759px;font-size:11px;line-height:11px;">1</span>
<span class="tx dc" style="left:429.20px;top:759px;font-size:11px;line-height:11px;transform:scaleX(0.9507);">HOSPIINNOVA</span>
<span class="tx dc" style="left:529.10px;top:759px;font-size:11px;line-height:11px;transform:scaleX(0.8437);">SERV</span>
<span class="tx dc" style="left:629.30px;top:759px;font-size:11px;line-height:11px;transform:scaleX(0.8870);">SERVICIO POR E...</span>
<span class="tx dc" style="left:729.10px;top:759px;font-size:11px;line-height:11px;transform:scaleX(0.8437);">SERV</span>
<span class="tx dc" style="left:790.10px;top:759px;font-size:11px;line-height:11px;">1</span>
<span class="tx dc" style="left:867.90px;top:759px;font-size:11px;line-height:11px;transform:scaleX(1.0332);">No aplica</span>
<span class="tx dc" style="left:961.63px;top:759px;font-size:11px;line-height:11px;transform:scaleX(0.9650);">1,950.00</span>
<span class="tx dc" style="left:1027.43px;top:759px;font-size:11px;line-height:11px;transform:scaleX(0.9650);">1,950.00</span>
<span class="tx dc" style="left:1111.07px;top:759px;font-size:11px;line-height:11px;transform:scaleX(0.9650);">0.00</span>
<span class="tx dc" style="left:1151.14px;top:759px;font-size:11px;line-height:11px;">4</span>
<span class="tx dc" style="left:1196.30px;top:759px;font-size:11px;line-height:11px;transform:scaleX(1.0451);">Janeth Miranda</span>
<div class="row alt" style="top:776px"><i class="rh"></i><i class="rv"></i><i class="rb"></i><i class="rl"></i></div>
<span class="tx dc" style="left:53.80px;top:784px;font-size:11px;line-height:11px;">03/04/2025</span>
<span class="tx dc" style="left:194.30px;top:784px;font-size:11px;line-height:11px;transform:scaleX(0.9211);">FITSAM451</span>
<span class="tx dc" style="left:294.40px;top:784px;font-size:11px;line-height:11px;transform:scaleX(0.9000);">E</span>
<span class="tx dc" style="left:359.40px;top:784px;font-size:11px;line-height:11px;">1</span>
<span class="tx dc" style="left:429.20px;top:784px;font-size:11px;line-height:11px;transform:scaleX(0.9405);">MARCOS EDUA...</span>
<span class="tx dc" style="left:529.10px;top:784px;font-size:11px;line-height:11px;transform:scaleX(0.9226);">CAJA5</span>
<span class="tx dc" style="left:629.30px;top:784px;font-size:11px;line-height:11px;transform:scaleX(0.8726);">ASPEL CAJA VER...</span>
<span class="tx dc" style="left:729.10px;top:784px;font-size:11px;line-height:11px;transform:scaleX(0.8197);">ASPEL</span>
<span class="tx dc" style="left:790.10px;top:784px;font-size:11px;line-height:11px;">1</span>
<span class="tx dc" style="left:867.90px;top:784px;font-size:11px;line-height:11px;">pz</span>
<span class="tx dc" style="left:961.63px;top:784px;font-size:11px;line-height:11px;transform:scaleX(0.9650);">5,589.00</span>
<span class="tx dc" style="left:1027.43px;top:784px;font-size:11px;line-height:11px;transform:scaleX(0.9650);">5,589.00</span>
<span class="tx dc" style="left:1111.07px;top:784px;font-size:11px;line-height:11px;transform:scaleX(0.9650);">0.00</span>
<span class="tx dc" style="left:1148.08px;top:784px;font-size:11px;line-height:11px;">17</span>
<span class="tx dc" style="left:1196.30px;top:784px;font-size:11px;line-height:11px;transform:scaleX(1.0396);">Regina Miranda</span>
<div class="row" style="top:801px"><i class="rh"></i><i class="rv"></i><i class="rb"></i><i class="rl"></i></div>
<div class="row alt" style="top:826px"><i class="rh"></i><i class="rv"></i><i class="rb"></i><i class="rl"></i></div>
</div></div>
<div id="vsb"></div><div id="vsb2"></div>
</body></html>
